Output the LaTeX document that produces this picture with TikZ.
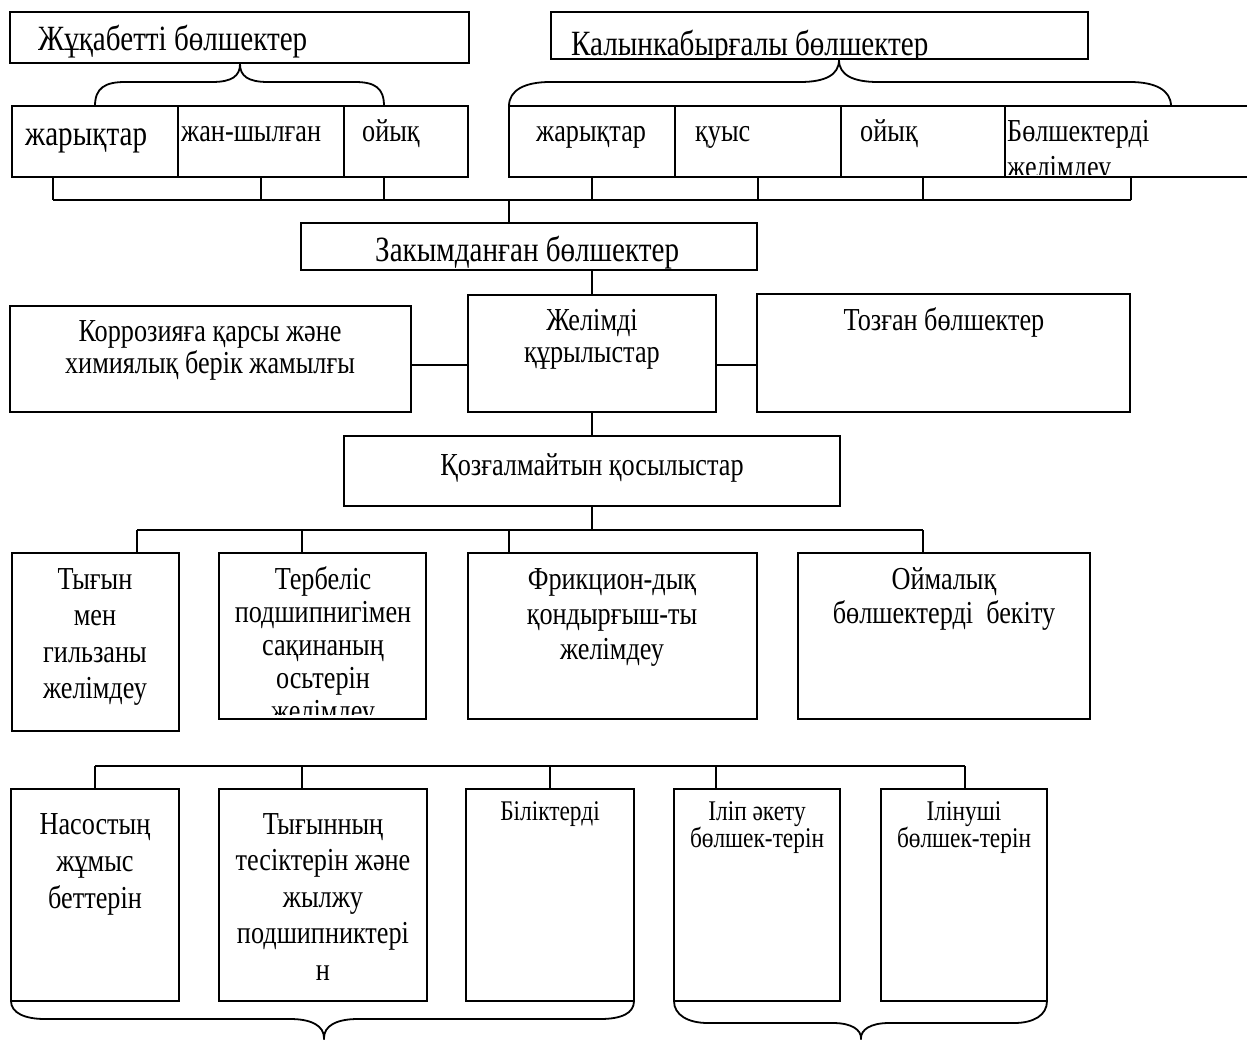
\documentclass[tikz,border=0pt]{standalone}
\usepackage{fontspec}
\setmainfont{Liberation Serif}[FakeStretch=0.82]
\usetikzlibrary{fit}

% rectangle from two corners
\newcommand\mkcell[5]{%
  \coordinate (#1-a) at (#2,#3);
  \coordinate (#1-b) at (#4,#5);
  \node[cell, fit=(#1-a)(#1-b)] (#1) {};}
% fixed height of the first line: baseline sits 28pt under the node top
\newcommand\lead{\rule{0pt}{28pt}}

\begin{document}
\begin{tikzpicture}[x=1pt, y=-1pt,
  cell/.style={draw, line width=1.8pt, inner sep=0pt, outer sep=0pt},
  link/.style={line width=1.8pt},
  brace line/.style={line width=1.8pt},
  tbig/.style={inner sep=0pt, font=\fontsize{35.5}{40}\selectfont, align=center},
  tnorm/.style={inner sep=0pt, font=\fontsize{32}{#1}\selectfont, align=center},
  tnorm/.default=36.5,
  tsml/.style={inner sep=0pt, font=\fontsize{28.5}{26}\selectfont, align=center},
]
\useasboundingbox (0,0) rectangle (1247,1039);

% ---- boxes ----
\mkcell{A}{10}{12}{469}{63}
\mkcell{B}{551}{12}{1088}{59}
\mkcell{L1}{12}{106}{178}{177}
\mkcell{L2}{178}{106}{344}{177}
\mkcell{L3}{344}{106}{468}{177}
\mkcell{R1}{509}{106}{675}{177}
\mkcell{R2}{675}{106}{841}{177}
\mkcell{R3}{841}{106}{1005}{177}
\mkcell{R4}{1005}{106}{1262}{177}
\mkcell{Zak}{301}{223}{757}{270}
\mkcell{Kor}{10}{306}{411}{412}
\mkcell{Zh}{468}{295}{716}{412}
\mkcell{Toz}{757}{294}{1130}{412}
\mkcell{Qoz}{344}{436}{840}{506}
\mkcell{Tyg}{12}{553}{179}{731}
\mkcell{Ter}{219}{553}{426}{719}
\mkcell{Fr}{468}{553}{757}{719}
\mkcell{Oim}{798}{553}{1090}{719}
\mkcell{Nas}{11}{789}{179}{1001}
\mkcell{Tgn}{219}{789}{427}{1001}
\mkcell{Bil}{466}{789}{634}{1001}
\mkcell{Ilip}{674}{789}{840}{1001}
\mkcell{Ilin}{881}{789}{1047}{1001}

% ---- texts ----
\node[tbig, anchor=north west] (tA) at (38,22) {\lead Жұқабетті бөлшектер};
\begin{scope}
  \clip (551,12) rectangle (1088,58);
  \node[tbig, anchor=north west] (tB) at (571,27) {\lead Калынкабырғалы бөлшектер};
\end{scope}
\node[tbig, anchor=north west] (tL1) at (25,117) {\lead жарықтар};
\node[tnorm, anchor=north west] (tL2) at (181,113) {\lead жан-шылған};
\node[tnorm, anchor=north west] (tL3) at (362,113) {\lead ойық};
\node[tnorm, anchor=north west] (tR1) at (536,113) {\lead жарықтар};
\node[tnorm, anchor=north west] (tR2) at (695,113) {\lead қуыс};
\node[tnorm, anchor=north west] (tR3) at (860,113) {\lead ойық};
\begin{scope}
  \clip (1005,106) rectangle (1247,174);
  \node[tnorm, align=left, anchor=north west] (tR4) at (1007,113) {\lead Бөлшектерді\\желімдеу};
\end{scope}
\begin{scope}
  \clip (301,223) rectangle (757,269);
  \node[tbig, anchor=north west] (tZak) at (375,233) {\lead Закымданған бөлшектер};
\end{scope}
\node[tnorm=32, anchor=north] (tKor) at (210,313) {\lead Коррозияға қарсы және\\химиялық берік жамылғы};
\node[tnorm=32, anchor=north] (tZh) at (592,302) {\lead Желімді\\құрылыстар};
\node[tnorm, anchor=north] (tToz) at (944,302) {\lead Тозған бөлшектер};
\node[tnorm, anchor=north] (tQoz) at (592,447) {\lead Қозғалмайтын қосылыстар};
\node[tnorm, anchor=north] (tTyg) at (95,561) {\lead Тығын\\мен\\гильзаны\\желімдеу};
\begin{scope}
  \clip (219,553) rectangle (426,714);
  \node[tnorm=33, anchor=north] (tTer) at (323,561) {\lead Тербеліс\\подшипнигімен\\сақинаның\\осьтерін\\желімдеу};
\end{scope}
\node[tnorm=35, anchor=north] (tFr) at (612,561) {\lead Фрикцион-дық\\қондырғыш-ты\\желімдеу};
\node[tnorm=34, anchor=north] (tOim) at (944,561) {\lead Оймалық\\бөлшектерді\ \ бекіту};
\node[tnorm=37, anchor=north] (tNas) at (95,806) {\lead Насостың\\жұмыс\\беттерін};
\node[tnorm, anchor=north] (tTgn) at (323,806) {\lead Тығынның\\тесіктерін және\\жылжу\\подшипниктері\\н};
\node[tsml, anchor=north] (tBil) at (550,792) {\lead Біліктерді};
\node[tsml, anchor=north] (tIlip) at (757,792) {\lead Іліп әкету\\бөлшек-терін};
\node[tsml, anchor=north] (tIlin) at (964,792) {\lead Ілінуші\\бөлшек-терін};

% ---- bus under the top rows ----
\coordinate (bt-l) at (53,200);
\coordinate (bt-r) at (1131,200);
\coordinate (bt-3) at (384,200);
\coordinate (bt-j) at (509,200);
\draw[link] (bt-l) -- (bt-r);
\draw[link] (L1.south -| bt-l) -- (bt-l);
\draw[link] (L2.south) -- (L2.south |- bt-l);
\draw[link] (L3.south -| bt-3) -- (bt-3);
\draw[link] (R1.south) -- (R1.south |- bt-l);
\draw[link] (R2.south) -- (R2.south |- bt-l);
\draw[link] (R3.south) -- (R3.south |- bt-l);
\draw[link] (R4.south -| bt-r) -- (bt-r);
\draw[link] (bt-j) -- (Zak.north -| bt-j);

% ---- middle part ----
\coordinate (hm) at (0,365);
\draw[link] (Zh.north |- Zak.south) -- (Zh.north);
\draw[link] (Kor.east |- hm) -- (Zh.west |- hm);
\draw[link] (Zh.east |- hm) -- (Toz.west |- hm);
\draw[link] (Zh.south) -- (Qoz.north);

% ---- bus under the joints box ----
\coordinate (bm-l) at (137,530);
\coordinate (bm-2) at (302,530);
\coordinate (bm-3) at (509,530);
\coordinate (bm-r) at (923,530);
\draw[link] (Qoz.south) -- (Qoz.south |- bm-l);
\draw[link] (bm-l) -- (bm-r);
\draw[link] (bm-l) -- (Tyg.north -| bm-l);
\draw[link] (bm-2) -- (Ter.north -| bm-2);
\draw[link] (bm-3) -- (Fr.north -| bm-3);
\draw[link] (bm-r) -- (Oim.north -| bm-r);

% ---- bus over the bottom row ----
\coordinate (bb-l) at (95,766);
\coordinate (bb-2) at (302,766);
\coordinate (bb-4) at (716,766);
\coordinate (bb-r) at (965,766);
\draw[link] (bb-l) -- (bb-r);
\draw[link] (bb-l) -- (Nas.north -| bb-l);
\draw[link] (bb-2) -- (Tgn.north -| bb-2);
\draw[link] (Bil.north) -- (Bil.north |- bb-l);
\draw[link] (bb-4) -- (Ilip.north -| bb-4);
\draw[link] (bb-r) -- (Ilin.north -| bb-r);

% ---- braces ----
\draw[brace line] (95,106) .. controls (95,88) and (105,82) .. (125,82) -- (212,82)
  .. controls (232,82) and (240,76) .. (240,64)
  .. controls (240,76) and (248,82) .. (268,82) -- (355,82)
  .. controls (375,82) and (384,88) .. (384,106);
\draw[brace line] (509,106) .. controls (509,90) and (525,82) .. (550,82) -- (800,82)
  .. controls (825,82) and (839,75) .. (839,60)
  .. controls (839,75) and (853,82) .. (878,82) -- (1130,82)
  .. controls (1155,82) and (1171,90) .. (1171,106);
\draw[brace line] (11,1001) .. controls (11,1013) and (25,1019) .. (45,1019) -- (290,1019)
  .. controls (312,1019) and (324,1026) .. (324,1038)
  .. controls (324,1026) and (336,1019) .. (358,1019) -- (600,1019)
  .. controls (622,1019) and (634,1013) .. (634,1001);
\draw[brace line] (674,1001) .. controls (674,1015) and (688,1023) .. (708,1023) -- (833,1023)
  .. controls (852,1023) and (861,1030) .. (861,1038)
  .. controls (861,1030) and (870,1023) .. (889,1023) -- (1014,1023)
  .. controls (1034,1023) and (1047,1015) .. (1047,1001);
\end{tikzpicture}
\end{document}
